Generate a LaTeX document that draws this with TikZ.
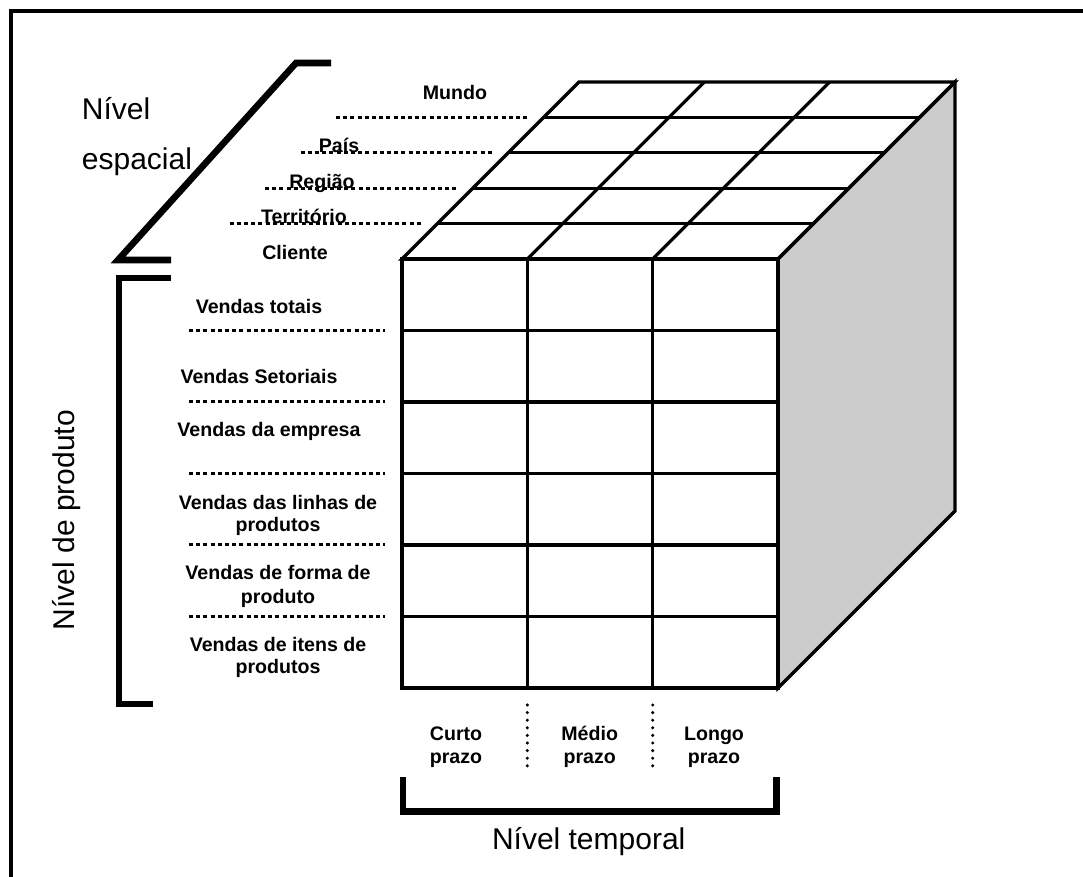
\documentclass[tikz,border=0pt]{standalone}
\usepackage{fontspec}
\setmainfont{Liberation Sans}
\begin{document}
\begin{tikzpicture}[x=0.5pt,y=-0.5pt,
  frame/.style={line width=1.75pt},
  cubeline/.style={line width=1.6pt, line join=miter},
  bracket/.style={line width=3.3pt, line join=miter, line cap=butt},
  sqdots/.style={line width=1.5pt, dash pattern=on 2pt off 1.6pt},
  rddots/.style={line width=1.7pt, line cap=round, dash pattern=on 0pt off 3.8pt},
  lbl/.style={font=\bfseries\fontsize{9.8}{11.5}\selectfont, inner sep=0pt, anchor=base},
  biglbl/.style={font=\fontsize{15}{18}\selectfont, inner sep=0pt}]

\useasboundingbox (0,0) rectangle (1083,877);

% outer frame (top and left edges)
\draw[frame] (11,900) -- (11,11) -- (1100,11);

% ---- cube ----
% shaded side face
\filldraw[cubeline, fill=black!20] (778,259) -- (955,82) -- (955,511) -- (778,688) -- cycle;
% top face: outline, depth rows and columns
\draw[cubeline] (402,259) -- (579,82) -- (955,82) -- (778,259) -- cycle;
\foreach \k in {1,...,4}
  \draw[cubeline] ({402+35.4*\k},{259-35.4*\k}) -- ({778+35.4*\k},{259-35.4*\k});
\foreach \cx in {527.3,652.7}
  \draw[cubeline] (\cx,259) -- ({\cx+177},82);
% front face: product rows and time columns
\draw[cubeline] (402,259) rectangle (778,688);
\foreach \k in {1,...,5}
  \draw[cubeline] (402,{259+71.5*\k}) -- (778,{259+71.5*\k});
\foreach \cx in {527.3,652.7}
  \draw[cubeline] (\cx,259) -- (\cx,688);

% ---- spatial level ----
\draw[bracket] (331,63) -- (296,63) -- (118,260) -- (171,260);
\node[biglbl, anchor=base west] (nivel) at (81.5,120) {Nível};
\node[biglbl, anchor=base west] (espacial) at (81.5,170) {espacial};

\draw[sqdots] (336,117.4) -- (528,117.4);
\draw[sqdots] (300.5,152.8) -- (492.5,152.8);
\draw[sqdots] (265,188.2) -- (457,188.2);
\draw[sqdots] (229.5,223.6) -- (421.5,223.6);

\node[lbl] (mundo) at (455,99.5) {Mundo};
\node[lbl] (pais) at (339,153) {País};
\node[lbl] (regiao) at (322,189) {Região};
\node[lbl] (territorio) at (304,224) {Território};
\node[lbl] (cliente) at (295,260) {Cliente};

% ---- product level ----
\draw[bracket] (171,278) -- (119,278) -- (119,704) -- (153,704);
\node[biglbl, rotate=90, anchor=base] (produto) at (75,520) {Nível de produto};

\foreach \k in {1,...,5}
  \draw[sqdots] (189,{259+71.5*\k}) -- (385,{259+71.5*\k});

\node[lbl] (totais) at (259,313.5) {Vendas totais};
\node[lbl] (setoriais) at (259,384) {Vendas Setoriais};
\node[lbl] (empresa) at (269,437) {Vendas da empresa};
\node[lbl] (linhasA) at (278,509.5) {Vendas das linhas de};
\node[lbl] (linhasB) at (278,531) {produtos};
\node[lbl] (formaA) at (278,580) {Vendas de forma de};
\node[lbl] (formaB) at (278,603.5) {produto};
\node[lbl] (itensA) at (278,651) {Vendas de itens de};
\node[lbl] (itensB) at (278,673.5) {produtos};

% ---- time level ----
\draw[rddots] (527.3,705) -- (527.3,773);
\draw[rddots] (652.7,705) -- (652.7,773);

\node[lbl] (curtoA) at (456,740.5) {Curto};
\node[lbl] (curtoB) at (456,763) {prazo};
\node[lbl] (medioA) at (589.7,740.5) {Médio};
\node[lbl] (medioB) at (589.7,763) {prazo};
\node[lbl] (longoA) at (714,740.5) {Longo};
\node[lbl] (longoB) at (714,763) {prazo};

\draw[bracket] (403,777) -- (403,811.5) -- (776.5,811.5) -- (776.5,777);
\node[biglbl, anchor=base] (temporal) at (588.7,849.5) {Nível temporal};

\end{tikzpicture}
\end{document}
